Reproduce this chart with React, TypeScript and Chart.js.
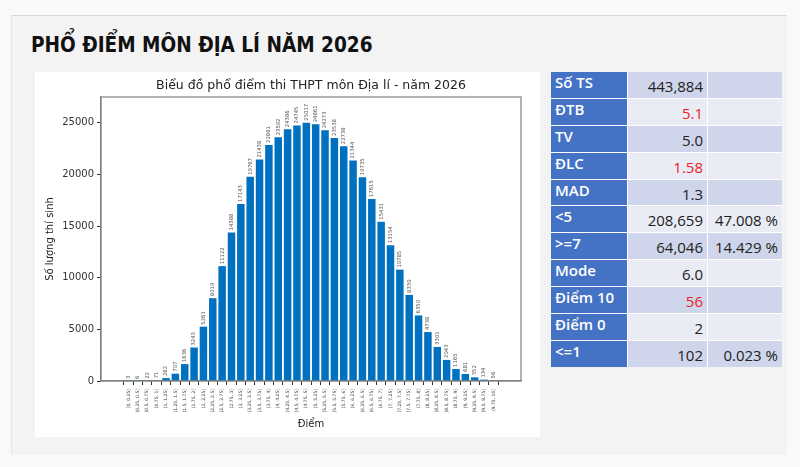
import React, { useEffect, useRef } from 'react';
import { Chart, registerables } from 'chart.js';

Chart.register(...registerables);

const pageTitle = 'PHỔ ĐIỂM MÔN ĐỊA LÍ NĂM 2026';
const chartTitle = 'Biểu đồ phổ điểm thi THPT môn Địa lí - năm 2026';
const xAxisTitle = 'Điểm';
const yAxisTitle = 'Số lượng thí sinh';

const binLabels = [
  '[0, 0.25]', '(0.25, 0.5]', '(0.5, 0.75]', '(0.75, 1]', '(1, 1.25]', '(1.25, 1.5]', '(1.5, 1.75]', '(1.75, 2]',
  '(2, 2.25]', '(2.25, 2.5]', '(2.5, 2.75]', '(2.75, 3]', '(3, 3.25]', '(3.25, 3.5]', '(3.5, 3.75]', '(3.75, 4]',
  '(4, 4.25]', '(4.25, 4.5]', '(4.5, 4.75]', '(4.75, 5]', '(5, 5.25]', '(5.25, 5.5]', '(5.5, 5.75]', '(5.75, 6]',
  '(6, 6.25]', '(6.25, 6.5]', '(6.5, 6.75]', '(6.75, 7]', '(7, 7.25]', '(7.25, 7.5]', '(7.5, 7.75]', '(7.75, 8]',
  '(8, 8.25]', '(8.25, 8.5]', '(8.5, 8.75]', '(8.75, 9]', '(9, 9.25]', '(9.25, 9.5]', '(9.5, 9.75]', '(9.75, 10]',
];

const counts = [
  3, 6, 22, 71, 282, 707, 1636, 3243,
  5261, 8019, 11122, 14388, 17143, 19767, 21438, 22861,
  23592, 24386, 24745, 25017, 24861, 24273, 23538, 22738,
  21344, 19735, 17615, 15431, 13154, 10785, 8339, 6350,
  4738, 3301, 2043, 1165, 681, 352, 134, 56,
];

const yTicks = [0, 5000, 10000, 15000, 20000, 25000];
const yMax = 27500;

const statLabels = ['Số TS', 'ĐTB', 'TV', 'ĐLC', 'MAD', '<5', '>=7', 'Mode', 'Điểm 10', 'Điểm 0', '<=1'];
const statValues = ['443,884', '5.1', '5.0', '1.58', '1.3', '208,659', '64,046', '6.0', '56', '2', '102'];
const statPercents = ['', '', '', '', '', '47.008 %', '14.429 %', '', '', '', '0.023 %'];
const statRed = [false, true, false, true, false, false, false, false, true, false, false];

const barLabelPlugin = {
  id: 'barLabels',
  afterDatasetsDraw(chart: any) {
    const ctx = chart.ctx;
    const meta = chart.getDatasetMeta(0);
    ctx.save();
    ctx.font = '5.3px "DejaVu Sans"';
    ctx.fillStyle = '#555';
    ctx.textAlign = 'left';
    ctx.textBaseline = 'middle';
    meta.data.forEach((bar: any, i: number) => {
      ctx.save();
      ctx.translate(bar.x, bar.y - 2);
      ctx.rotate(-Math.PI / 2);
      ctx.fillText(String(counts[i]), 0, 0);
      ctx.restore();
    });
    ctx.restore();
  },
};

const frameTitlePlugin = {
  id: 'frameTitle',
  afterDraw(chart: any) {
    const { ctx, chartArea } = chart;
    ctx.save();
    ctx.strokeStyle = '#808080';
    ctx.lineWidth = 1.2;
    ctx.strokeRect(chartArea.left, chartArea.top, chartArea.right - chartArea.left, chartArea.bottom - chartArea.top);
    ctx.fillStyle = '#222';
    ctx.font = '12.5px "DejaVu Sans"';
    ctx.textAlign = 'center';
    ctx.textBaseline = 'middle';
    ctx.fillText(chartTitle, (chartArea.left + chartArea.right) / 2, chartArea.top - 11);
    ctx.restore();
  },
};

function BarChart() {
  const ref = useRef<HTMLCanvasElement>(null);
  useEffect(() => {
    if (!ref.current) return;
    const chart = new Chart(ref.current, {
      type: 'bar',
      data: {
        datasets: [
          {
            data: counts.map((v, i) => ({ x: i, y: v })),
            backgroundColor: '#0070c0',
            borderWidth: 0,
            barPercentage: 0.8,
            categoryPercentage: 1,
          },
        ],
      },
      options: {
        animation: false,
        responsive: false,
        layout: { padding: { left: 0, right: 19, top: 25, bottom: 0 } },
        plugins: {
          legend: { display: false },
          tooltip: { enabled: false },
          title: { display: false },
        },
        scales: {
          x: {
            type: 'linear',
            min: -2.39,
            max: 41.39,
            afterBuildTicks: (scale: any) => {
              scale.ticks = binLabels.map((_, i) => ({ value: i }));
            },
            afterFit: (scale: any) => {
              scale.height = 56;
            },
            ticks: {
              autoSkip: false,
              minRotation: 90,
              maxRotation: 90,
              padding: 4,
              color: '#444',
              font: { family: 'DejaVu Sans', size: 4.5 },
              callback: (v: any) => binLabels[v] ?? '',
            },
            grid: { drawOnChartArea: false, drawTicks: true, tickLength: 4, color: '#333' },
            border: { display: true, color: '#808080', width: 1.2 },
            title: {
              display: true,
              text: xAxisTitle,
              color: '#222',
              font: { family: 'DejaVu Sans', size: 10 },
              padding: { top: 0, bottom: 7 },
            },
          },
          y: {
            min: 0,
            max: yMax,
            afterBuildTicks: (scale: any) => {
              scale.ticks = yTicks.map((v) => ({ value: v }));
            },
            afterFit: (scale: any) => {
              scale.width = 66;
            },
            ticks: {
              padding: 3,
              color: '#333',
              font: { family: 'DejaVu Sans', size: 10 },
              callback: (v: any) => String(v),
            },
            grid: { drawOnChartArea: false, drawTicks: true, tickLength: 4, color: '#333' },
            border: { display: true, color: '#808080', width: 1.2 },
            title: {
              display: true,
              text: yAxisTitle,
              color: '#222',
              font: { family: 'DejaVu Sans', size: 10 },
              padding: { top: 9, bottom: 0 },
            },
          },
        },
      },
      plugins: [barLabelPlugin, frameTitlePlugin],
    } as any);
    return () => chart.destroy();
  }, []);
  return <canvas ref={ref} width={505} height={365} style={{ display: 'block', width: 505, height: 365 }} />;
}

export default function App() {
  useEffect(() => {
    document.body.style.margin = '0';
  }, []);
  const font = '"Open Sans", "Noto Sans", sans-serif';
  return (
    <div style={{ position: 'fixed', left: 0, top: 0, width: 800, height: 467, background: '#f8f9fb', overflow: 'hidden' }}>
      <div
        style={{
          position: 'absolute',
          left: 11,
          top: 15,
          width: 776,
          height: 440,
          background: '#f3f3f3',
          borderTop: '1px solid #d9d9d9',
          borderLeft: '1px solid #e4e4e4',
          boxSizing: 'border-box',
        }}
      />
      <div
        style={{
          position: 'absolute',
          left: 31,
          top: 31,
          fontFamily: '"DejaVu Sans Condensed", "DejaVu Sans", sans-serif',
          fontWeight: 700,
          fontSize: 22,
          color: '#111',
          whiteSpace: 'nowrap',
          lineHeight: '28px',
          transform: 'scaleX(0.935)',
          transformOrigin: 'left center',
        }}
      >
        {pageTitle}
      </div>
      <div style={{ position: 'absolute', left: 35, top: 72, width: 505, height: 365, background: '#fff' }}>
        <BarChart />
      </div>
      <div
        style={{
          position: 'absolute',
          left: 551,
          top: 72,
          display: 'grid',
          gridTemplateColumns: '76px 79px 74px',
          gridTemplateRows: 'repeat(11, 25.9px)',
          gap: 1,
          background: '#ffffff',
          fontFamily: font,
          fontSize: 15,
        }}
      >
        {statLabels.map((lab, i) => {
          const bg = i % 2 === 0 ? '#cfd5ea' : '#e9ebf5';
          return (
            <React.Fragment key={lab}>
              <div
                style={{
                  background: '#4472c4',
                  color: '#fff',
                  fontWeight: 600,
                  paddingLeft: 4,
                  paddingTop: 1,
                  lineHeight: '18px',
                  whiteSpace: 'nowrap',
                }}
              >
                {lab}
              </div>
              <div
                style={{
                  background: bg,
                  color: statRed[i] ? '#ee1c25' : '#222',
                  textAlign: 'right',
                  paddingRight: 4,
                  paddingTop: 5,
                  lineHeight: '18px',
                  whiteSpace: 'nowrap',
                }}
              >
                {statValues[i]}
              </div>
              <div
                style={{
                  background: bg,
                  color: '#222',
                  textAlign: 'right',
                  paddingRight: 4,
                  paddingTop: 5,
                  lineHeight: '18px',
                  whiteSpace: 'nowrap',
                }}
              >
                {statPercents[i]}
              </div>
            </React.Fragment>
          );
        })}
      </div>
    </div>
  );
}
